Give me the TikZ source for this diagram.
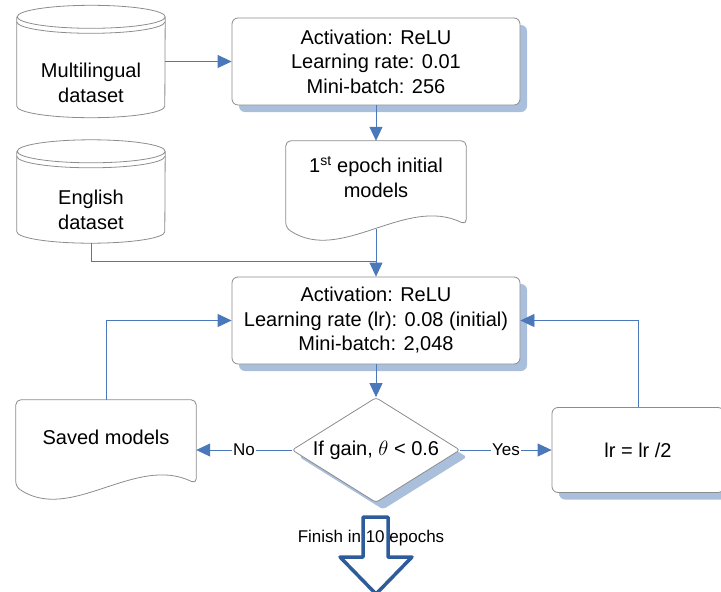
\documentclass[tikz,border=0pt]{standalone}
\usepackage{fontspec}
\setmainfont{Liberation Sans}
\usetikzlibrary{arrows.meta}
\usetikzlibrary{shapes.geometric}
\usetikzlibrary{shadows}

\definecolor{linkblue}{HTML}{4A78BA}
\definecolor{edgegray}{HTML}{8C8C8C}
\definecolor{shadowblue}{HTML}{A9BFDC}
\definecolor{finishblue}{HTML}{2E5C9A}

% cylinder outline round a named node
\newcommand{\dbdraw}[1]{%
	\draw[boxline] ([yshift=-11.5pt]#1.north west) -- ([yshift=11.5pt]#1.south west)
		arc[start angle=180,end angle=360,x radius=74pt,y radius=11.5pt]
		-- ([yshift=-11.5pt]#1.north east)
		arc[start angle=0,end angle=360,x radius=74pt,y radius=11.5pt];
	\draw[boxline] ([yshift=-16.5pt]#1.north west)
		arc[start angle=180,end angle=360,x radius=74pt,y radius=11.5pt];
}
% document outline with a wavy foot
\newcommand{\docdraw}[1]{%
	\draw[boxline,rounded corners=5pt] (#1.north) -- (#1.north west) -- ([yshift=-87pt]#1.north west)
		.. controls ([shift={(55pt,-124pt)}]#1.north west) and ([shift={(120pt,-54pt)}]#1.north west) ..
		([yshift=-84pt]#1.north east) -- (#1.north east) -- cycle;
	\coordinate (#1-foot) at ([yshift=-88pt]#1.north);
}

\begin{document}
\begin{tikzpicture}[x=1pt,y=1pt]
\begin{scope}
	\tikzstyle{every node}=[align=center, font=\fontsize{20}{24.5}\selectfont]
	\tikzstyle{boxline}=[draw=edgegray, line width=0.8pt]
	\tikzstyle{shade}=[drop shadow={shadow xshift=7pt, shadow yshift=-7pt, fill=shadowblue, opacity=1}]
	\tikzstyle{procbox}=[boxline, fill=white, rounded corners=6pt, shade, minimum height=87pt]
	\tikzstyle{docbox}=[minimum width=180pt, inner sep=0pt]
	\tikzstyle{dbbox}=[minimum width=148pt, inner sep=0pt]
	\tikzstyle{decision}=[diamond, boxline, fill=white, rounded corners=3pt, shade, aspect=1.6,
		minimum width=168pt, minimum height=105pt, inner sep=0pt]
	\tikzstyle{link}=[draw=linkblue, line width=0.8pt]
	\tikzstyle{arrow}=[link, -{Triangle[length=14pt, width=13pt]}]
	\tikzstyle{lbl}=[fill=white, inner sep=1pt, font=\fontsize{17}{20}\selectfont]

	\useasboundingbox (0,0) rectangle (721,-592);

	\node[dbbox, minimum height=112pt] (multi) at (91,-61.5) {};
	\node (multitxt) at (91,-83) {Multilingual\\dataset};
	\node[dbbox, minimum height=103pt] (english) at (91,-191.5) {};
	\node (englishtxt) at (91,-210) {English\\dataset};
	\dbdraw{multi}
	\dbdraw{english}

	\node[procbox, minimum width=288pt] (box1) at (376,-61.5)
		{Activation: ReLU\\Learning rate: 0.01\\Mini-batch: 256};
	\node[docbox, minimum height=72pt] (epoch) at (376,-177)
		{1\textsuperscript{st} epoch initial\\models};
	\docdraw{epoch}
	\node[procbox, minimum width=288pt] (box2) at (376,-320.5)
		{Activation: ReLU\\Learning rate (lr): 0.08 (initial)\\Mini-batch: 2,048};
	\node[decision] (test) at (376,-450) {If gain, $\theta$ < 0.6};
	\node[docbox, minimum height=74pt] (saved) at (106,-437) {Saved models};
	\docdraw{saved}
	\node[procbox, minimum width=172pt, minimum height=85pt] (halve) at (638,-450) {lr = lr /2};
	\coordinate (join) at (376,-261);

	\draw [arrow] (multi) -- (box1);
	\draw [arrow] (box1) -- (epoch);
	\draw [link] (english.south) |- (join);
	\draw [arrow] (epoch-foot) -- (box2.north);
	\draw [arrow] (box2) -- (test);
	\draw [arrow] (test.west) -- node[lbl]{No} (test.west -| saved.east);
	\draw [arrow] (test.east) -- node[lbl]{Yes} (halve.west);
	\draw [arrow] (saved.north) |- (box2.west);
	\draw [arrow] (halve.north) |- (box2.east);

	\draw [finishblue, line width=3.5pt, line join=round] (363,-517) -- (388,-517) -- (388,-557)
		-- (412,-557) -- (376,-594) -- (340,-557) -- (363,-557) -- cycle;
	\node[font=\fontsize{17}{20}\selectfont] (finish) at (371,-538) {Finish in 10 epochs};
\end{scope}
\end{tikzpicture}
\end{document}
